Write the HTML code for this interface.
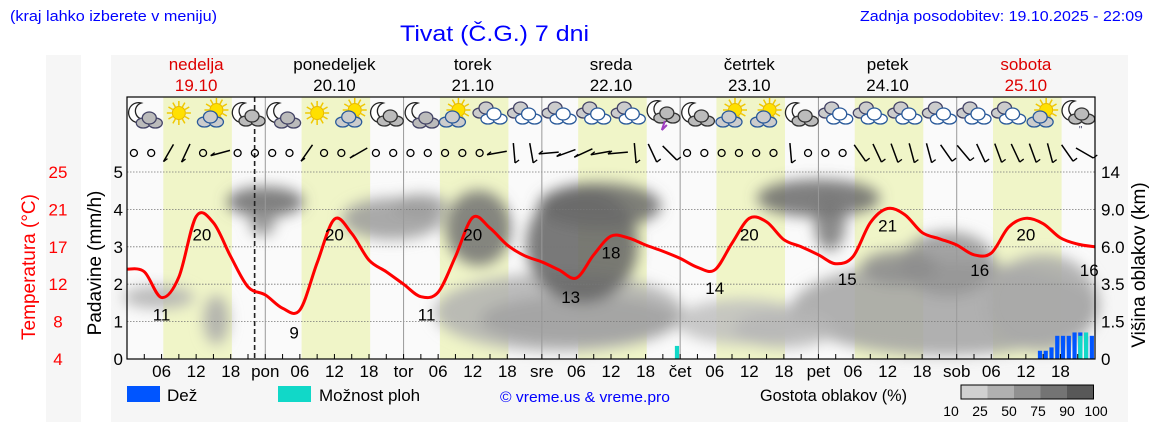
<!DOCTYPE html>
<html><head><meta charset="utf-8">
<style>
html,body{margin:0;padding:0;background:#fff;}
svg{display:block;font-family:"Liberation Sans",sans-serif;}
</style></head>
<body>
<svg id="chart" width="1152" height="443" viewBox="0 0 1152 443" xmlns="http://www.w3.org/2000/svg">
<defs>
<filter id="blur" x="-30%" y="-30%" width="160%" height="160%"><feGaussianBlur stdDeviation="7"/></filter>
</defs>
<rect x="46" y="55" width="35" height="367" fill="#f6f6f6"/>
<rect x="111" y="55" width="1017" height="367" fill="#f6f6f6"/>
<text x="10" y="21" font-size="15" fill="#0000ff" textLength="207" lengthAdjust="spacingAndGlyphs">(kraj lahko izberete v meniju)</text>
<text x="400" y="41" font-size="22" fill="#0000ff" textLength="189" lengthAdjust="spacingAndGlyphs">Tivat (Č.G.) 7 dni</text>
<text x="1143" y="21" font-size="15" fill="#0000ff" text-anchor="end" textLength="283" lengthAdjust="spacingAndGlyphs">Zadnja posodobitev: 19.10.2025 - 22:09</text>
<g id="bg"></g>
<g id="clouds" filter="url(#blur)"></g>
<g id="grid"></g>
<g id="bars"></g>
<g id="temp"></g>
<g id="icons"></g>
<g id="wind"></g>
<g id="axes"></g>
<g id="legend"></g>
</svg>
<script>
// ---- data ----
const dayNames = ["nedelja","ponedeljek","torek","sreda","četrtek","petek","sobota"];
const dayDates = ["19.10","20.10","21.10","22.10","23.10","24.10","25.10"];
const dayAbbr = ["pon","tor","sre","čet","pet","sob"];
const tempValues = [14.1,13.8,10.9,13.2,20.0,19.3,15.5,12.1,11.2, 9.7,9.5,14.8,19.7,18.1,15.1,13.8,12.4, 11.0,11.5,15.5,19.9,18.7,16.8,15.6,14.9, 14.0,13.1,15.7,17.8,17.6,16.8,16.1,15.3, 14.3,14.0,17.0,19.8,19.4,17.4,16.6,15.7, 14.7,15.5,19.3,20.9,20.2,18.2,17.5,16.8, 15.7,15.9,18.8,19.8,19.2,17.6,16.9,16.6];
const tempLabelHours = [6,13,29,36,52,60,77,84,102,108,125,132,148,156,167];
const tempLabelValues = [11,20,9,20,11,20,13,18,14,20,15,21,16,20,16];
const rainHours = [158,159,160,161,162,163,164,165,166,167];
const rainValues = [0.22,0.22,0.31,0.62,0.62,0.62,0.71,0.71,0.60,0.62];
const showerHours = [95,165,166];
const showerValues = [0.35,0.62,0.71];
const iconTypes = ["moon","sun","suncloud","mooncloud","moon","sun","suncloud","mooncloud",
 "moon","suncloud","cloud","cloud","cloud","cloud","cloud","storm",
 "mooncloud","suncloud","suncloud","mooncloud","cloud","cloud","cloud","cloud",
 "cloud","cloud","suncloud","moonrain"];
const windAngles = [-1,-1,60,65,-1,15,-1,-1, -1,-1,55,-1,-1,30,-1,-1, -1,-1,-1,-1,-1,10,95,100,
 5,20,25,10,5,95,115,135, -1,-1,-1,-1,-1,-1,95,-1, -1,-1,125,115,110,105,105,125, 130,115,110,115,110,105,125,150];
// cloud blobs: [hourStart, hourEnd, mmLow, mmHigh, density 0-1]
const cloudStart = [0,14,18,22,38,47,56,54,62,70,72,96,110,120,116,135,150,128,106];
const cloudEnd   = [11,17,30,25,54,55,66,96,95,88,92,118,130,124,168,150,168,140,122];
const cloudLow   = [1.45,0.5,3.9,3.4,3.3,3.9,2.6,0.3,0.5,1.6,3.6,0.5,3.9,3.0,0.2,1.8,0.3,2.1,0.4];
const cloudHigh  = [1.85,1.6,4.5,3.9,4.2,4.3,4.4,2.2,1.6,4.5,4.6,1.5,4.7,4.3,2.5,3.3,2.7,2.8,1.2];
const cloudDens  = [0.35,0.4,0.85,0.6,0.5,0.5,0.8,0.35,0.45,0.9,0.85,0.25,0.85,0.75,0.45,0.55,0.4,0.6,0.3];

// ---- scales ----
const X0=127, X1=1095, YTOP=97, YB=359;
const X = h => X0 + h*(X1-X0)/168;
const Ymm = v => YB - v*37.4;
const YT = t => YB - (t-4)*187/21;
const NS="http://www.w3.org/2000/svg";
function el(tag, attrs, parent, text){const e=document.createElementNS(NS,tag);for(const k in attrs)e.setAttribute(k,attrs[k]);if(text!==undefined)e.textContent=text;parent.appendChild(e);return e;}
const g = id => document.getElementById(id);

// background plot
const bg=g('bg');
const plotBg=el('rect',{x:X0,y:YTOP,width:X1-X0,height:YB-YTOP,fill:'#fafafa'},bg);


for(let d=0;d<7;d++){
  const r=el('rect',{x:X(d*24+6.3),y:YTOP,width:X(d*24+18.2)-X(d*24+6.3),height:YB-YTOP,fill:'#f0f5c8'},bg);
  
  
}

// clouds
const cg=g('clouds');
for(let i=0;i<cloudStart.length;i++){
  const shade=Math.round(225-cloudDens[i]*140);
  const x1=X(cloudStart[i]),x2=X(cloudEnd[i]),y1=Ymm(cloudHigh[i]),y2=Ymm(cloudLow[i]);
  const r=el('ellipse',{cx:(x1+x2)/2,cy:(y1+y2)/2,rx:(x2-x1)/2+4,ry:(y2-y1)/2+4,fill:`rgb(${shade},${shade},${shade})`,opacity:0.85},cg);
  
  
}

// grid
const gr=g('grid');
for(let v=1;v<=5;v++){
  const l=el('line',{x1:X0,x2:X1,y1:Ymm(v),y2:Ymm(v),stroke:'#777','stroke-dasharray':'1.5,1.5','stroke-width':0.8},gr);
  
  
}
for(let d=1;d<7;d++){
  const l=el('line',{x1:X(d*24),x2:X(d*24),y1:YTOP,y2:YB,stroke:'#999','stroke-width':1},gr);
  
  
}
const now=el('line',{x1:X(22.15),x2:X(22.15),y1:YTOP,y2:YB,stroke:'#222','stroke-width':1.6,'stroke-dasharray':'5,3'},gr);



// bars
const bb=g('bars');
rainHours.forEach((h,i)=>{
  const r=el('rect',{x:X(h)+0.5,y:Ymm(rainValues[i]),width:4.2,height:YB-Ymm(rainValues[i]),fill:'#0055ff'},bb);
  
  
});
showerHours.forEach((h,i)=>{
  const r=el('rect',{x:X(h)+0.5,y:Ymm(showerValues[i]),width:4.2,height:YB-Ymm(showerValues[i]),fill:'#11d8c8'},bb);
  
  
});

// temperature line
const tg=g('temp');
const pts=tempValues.map((t,i)=>[X(i*3),YT(t)]);
let d=`M${pts[0][0]},${pts[0][1]}`;
for(let i=0;i<pts.length-1;i++){
  const p0=pts[Math.max(0,i-1)],p1=pts[i],p2=pts[i+1],p3=pts[Math.min(pts.length-1,i+2)];
  const c1=[p1[0]+(p2[0]-p0[0])/6,p1[1]+(p2[1]-p0[1])/6],c2=[p2[0]-(p3[0]-p1[0])/6,p2[1]-(p3[1]-p1[1])/6];
  d+=` C${c1[0]},${c1[1]} ${c2[0]},${c2[1]} ${p2[0]},${p2[1]}`;
}
const tl=el('path',{d:d,fill:'none',stroke:'#ff0000','stroke-width':3},tg);


tempLabelHours.forEach((h,i)=>{
  const t=el('text',{x:X(h),y:YT(tempLabelValues[i])+24,'font-size':17,'text-anchor':'middle',fill:'#000'},tg,String(tempLabelValues[i]));
  
  
});

// icons
const ig=g('icons');
function cloud(p,cx,cy,fill,stroke){
  el('ellipse',{cx:cx-6,cy:cy+3,rx:7,ry:5,fill:fill,stroke:stroke,'stroke-width':1.3},p);
  el('ellipse',{cx:cx+6,cy:cy+3,rx:7,ry:5,fill:fill,stroke:stroke,'stroke-width':1.3},p);
  el('ellipse',{cx:cx,cy:cy-2,rx:7,ry:6,fill:fill,stroke:stroke,'stroke-width':1.3},p);
}
function sun(p,cx,cy){
  for(let a=0;a<360;a+=30){const r=a*Math.PI/180;el('line',{x1:cx+7*Math.cos(r),y1:cy+7*Math.sin(r),x2:cx+12*Math.cos(r),y2:cy+12*Math.sin(r),stroke:'#f0c800','stroke-width':1.5},p);}
  el('circle',{cx:cx,cy:cy,r:6.5,fill:'#ffe000',stroke:'#e8b800','stroke-width':1},p);
}
function moon(p,cx,cy){
  el('path',{d:`M${cx+3},${cy-10} A10,10 0 1,0 ${cx+8},${cy+6} A8,8 0 1,1 ${cx+3},${cy-10} Z`,fill:'#fff',stroke:'#222','stroke-width':1.3},p);
}
iconTypes.forEach((t,i)=>{
  const cx=X(i*6+3), cy=113;
  const p=el('g',{},ig);
  
  
  if(t==='sun'){sun(p,cx,cy);}
  else if(t==='suncloud'){sun(p,cx+3,cy-3);cloud(p,cx-3,cy+6,'#ccc','#2a5a9a');}
  else if(t==='moon'){moon(p,cx-6,cy);cloud(p,cx+5,cy+7,'#bbb','#446');}
  else if(t==='mooncloud'){moon(p,cx-6,cy);cloud(p,cx+4,cy+5,'#bbb','#333');}
  else if(t==='moonrain'){moon(p,cx-6,cy-2);cloud(p,cx+4,cy+3,'#bbb','#333');el('text',{x:cx+3,y:cy+20,'font-size':10,fill:'#446','text-anchor':'middle'},p,'"');}
  else if(t==='storm'){moon(p,cx-6,cy-2);cloud(p,cx+4,cy+2,'#bbb','#333');el('path',{d:`M${cx+2},${cy+8} l-3,9 l5,-5`,stroke:'#a040c0',fill:'none','stroke-width':2},p);}
  else {cloud(p,cx-4,cy-3,'#ccc','#446');cloud(p,cx+4,cy+3,'#fff','#2a5a9a');}
});

// wind
const wg=g('wind');
windAngles.forEach((a,i)=>{
  const cx=X(i*3+1.2), cy=153;
  const p=el('g',{},wg);
  
  
  if(a<0){el('circle',{cx:cx,cy:cy,r:3.5,fill:'none',stroke:'#000','stroke-width':1.3},p);}
  else{
    const r=-a*Math.PI/180, L=10;
    const x1=cx-L*Math.cos(r),y1=cy-L*Math.sin(r),x2=cx+L*Math.cos(r),y2=cy+L*Math.sin(r);
    el('line',{x1:x1,y1:y1,x2:x2,y2:y2,stroke:'#000','stroke-width':1.5},p);
    const lo=y1>y2?[x1,y1]:[x2,y2];
    el('line',{x1:lo[0],y1:lo[1],x2:lo[0]+4,y2:lo[1]-3,stroke:'#000','stroke-width':1.3},p);
  }
});

// axes
const ax=g('axes');
el('rect',{x:X0,y:YTOP,width:X1-X0,height:YB-YTOP,fill:'none',stroke:'#000','stroke-width':1.2},ax);
for(let h=3;h<168;h+=3){
  el('line',{x1:X(h),x2:X(h),y1:YB,y2:YB-5,stroke:'#000','stroke-width':1},ax);
}
for(let dd=0;dd<7;dd++){
  const cx=X(dd*24+12), red=(dd===0||dd===6);
  const n=el('text',{x:cx,y:70,'font-size':17,'text-anchor':'middle',fill:red?'#dd0000':'#000'},ax,dayNames[dd]);
  
  
  const dt=el('text',{x:cx,y:91,'font-size':17,'text-anchor':'middle',fill:red?'#dd0000':'#000'},ax,dayDates[dd]);
  
  
  ['06','12','18'].forEach((s,k)=>{
    const t=el('text',{x:X(dd*24+6*(k+1)),y:377,'font-size':17,'text-anchor':'middle'},ax,s);
    
    
  });
  if(dd>0){
    const t=el('text',{x:X(dd*24),y:377,'font-size':17,'text-anchor':'middle'},ax,dayAbbr[dd-1]);
    
    
  }
}
const mmTicks=[0,1,2,3,4,5];
const tempTicks=["4","8","12","17","21","25"];
const kmTicks=["0","1.5","3.5","6.0","9.0","14"];
mmTicks.forEach((v,i)=>{
  const a=el('text',{x:123,y:Ymm(v)+6,'font-size':17,'text-anchor':'end'},ax,String(v));
  
  
  const b=el('text',{x:58,y:Ymm(v)+6,'font-size':17,'text-anchor':'middle',fill:'#ff0000'},ax,tempTicks[i]);
  
  
  const c=el('text',{x:1101,y:Ymm(v)+6,'font-size':17},ax,kmTicks[i]);
  
  
});
const t1=el('text',{x:0,y:0,'font-size':19,fill:'#ff0000','text-anchor':'middle',transform:'translate(35,267) rotate(-90)'},ax,'Temperatura (°C)');


const t2=el('text',{x:0,y:0,'font-size':19,'text-anchor':'middle',transform:'translate(101,263) rotate(-90)'},ax,'Padavine (mm/h)');


const t3=el('text',{x:0,y:0,'font-size':19,'text-anchor':'middle',transform:'translate(1145,265) rotate(-90)'},ax,'Višina oblakov (km)');



// legend
const lg=g('legend');
const l1=el('rect',{x:127,y:386,width:33,height:16,fill:'#0055ff'},lg);


const l1t=el('text',{x:167,y:401,'font-size':17},lg,'Dež');


const l2=el('rect',{x:278,y:386,width:33,height:16,fill:'#11d8c8'},lg);


const l2t=el('text',{x:319,y:401,'font-size':17},lg,'Možnost ploh');


const cp=el('text',{x:500,y:402,'font-size':15,fill:'#0000ff',textLength:170,lengthAdjust:'spacingAndGlyphs'},lg,'© vreme.us & vreme.pro');


const gl=el('text',{x:760,y:401,'font-size':17,textLength:147,lengthAdjust:'spacingAndGlyphs'},lg,'Gostota oblakov (%)');


const shades=['#d0d0d0','#b0b0b0','#909090','#747474','#585858'];
shades.forEach((c,i)=>{
  const r=el('rect',{x:961+i*26.5,y:385,width:26.5,height:14,fill:c},lg);
  
  
});
el('rect',{x:961,y:385,width:132.5,height:14,fill:'none',stroke:'#000','stroke-width':1},lg);
const dl=["10","25","50","75","90","100"];
dl.forEach((s,i)=>{
  const t=el('text',{x:951+i*29,y:416,'font-size':14,'text-anchor':'middle'},lg,s);
  
  
});
</script>
</body></html>
